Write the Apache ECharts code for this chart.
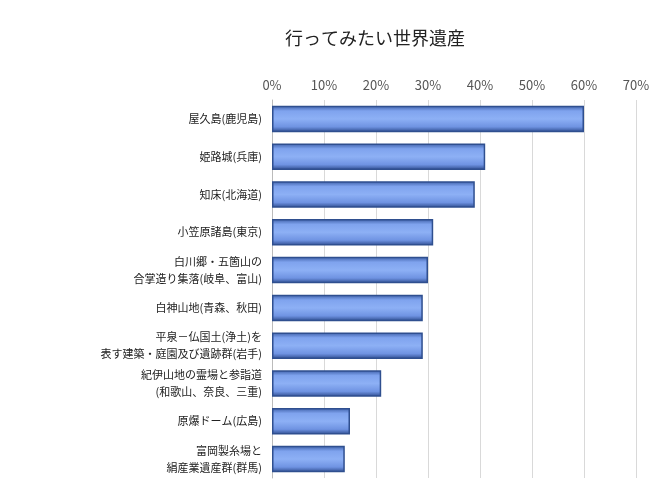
<!DOCTYPE html>
<html><head><meta charset="utf-8">
<script src="https://cdn.jsdelivr.net/npm/echarts@6/dist/echarts.min.js"></script>
<style>html,body{margin:0;padding:0;background:#fff}#c{width:666px;height:496px}</style>
</head><body><div id="c"></div>
<script>
const categories = ['屋久島(鹿児島)','姫路城(兵庫)','知床(北海道)','小笠原諸島(東京)','白川郷・五箇山の\n合掌造り集落(岐阜、富山)','白神山地(青森、秋田)','平泉－仏国土(浄土)を\n表す建築・庭園及び遺跡群(岩手)','紀伊山地の霊場と参詣道\n(和歌山、奈良、三重)','原爆ドーム(広島)','富岡製糸場と\n絹産業遺産群(群馬)'];
const values = [60, 41, 39, 31, 30, 29, 29, 21, 15, 14];
const chart = echarts.init(document.getElementById('c'));
chart.setOption({
  animation:false,
  title:{text:'行ってみたい世界遺産',left:370,top:24,textAlign:'center',textStyle:{fontSize:18,fontWeight:'normal',color:'#222',fontFamily:'Noto Sans CJK JP'}},
  grid:{left:272,right:30,top:100,bottom:18},
  xAxis:{type:'value',position:'top',min:0,max:70,interval:10,
    axisLabel:{formatter:'{value}%',color:'#555',fontSize:13,fontFamily:'Noto Sans CJK JP'},
    axisLine:{show:false},axisTick:{show:false},splitLine:{lineStyle:{color:'#d9d9d9'}}},
  yAxis:{type:'category',inverse:true,data:categories,
    axisLabel:{color:'#222',fontSize:11,lineHeight:17,fontFamily:'Noto Sans CJK JP',align:'right',margin:10},
    axisLine:{lineStyle:{color:'#bbb'}},axisTick:{show:false}},
  series:[{type:'bar',data:values,barWidth:'70%',
    itemStyle:{borderColor:'#2f4f8f',borderWidth:1.5,
      color:new echarts.graphic.LinearGradient(0,0,0,1,[
        {offset:0,color:'#3d5fa8'},{offset:0.2,color:'#7fa3ee'},{offset:0.5,color:'#8db0f5'},{offset:0.8,color:'#6f93e2'},{offset:1,color:'#2c4a8c'}])}}]
});
</script></body></html>
